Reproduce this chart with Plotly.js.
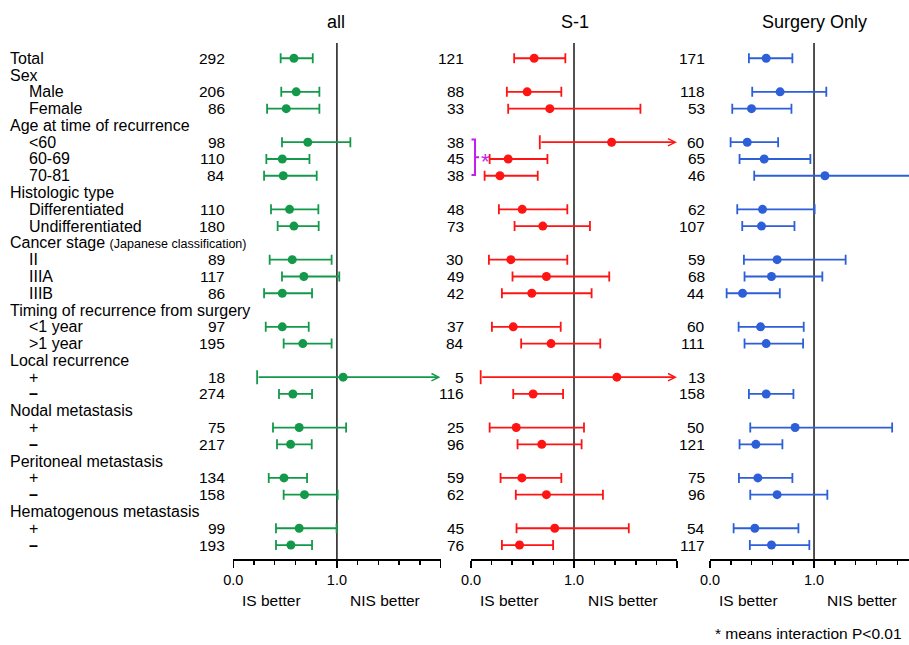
<!DOCTYPE html>
<html><head><meta charset="utf-8">
<script src="https://cdn.plot.ly/plotly-3.0.1.min.js"></script>
<style>html,body{margin:0;padding:0;background:#fff;overflow:hidden}#chart{width:909px;height:645px}</style>
</head><body><div id="chart"></div>
<script>
// ---------------- data ----------------
const labels = ['Total','Sex','Male','Female','Age at time of recurrence','<60','60-69','70-81',
  'Histologic type','Differentiated','Undifferentiated','Cancer stage|(Japanese classification)',
  'II','IIIA','IIIB','Timing of recurrence from surgery','<1 year','>1 year','Local recurrence','+','–',
  'Nodal metastasis','+','–','Peritoneal metastasis','+','–','Hematogenous metastasis','+','–'];
const level = [0,0,1,1,0,1,1,1,0,1,1,0,1,1,1,0,1,1,0,1,1,0,1,1,0,1,1,0,1,1];

const allN = [292,null,206,86,null,98,110,84,null,110,180,null,89,117,86,null,97,195,null,18,274,null,75,217,null,134,158,null,99,193];
const s1N  = [121,null,88,33,null,38,45,38,null,48,73,null,30,49,42,null,37,84,null,5,116,null,25,96,null,59,62,null,45,76];
const soN  = [171,null,118,53,null,60,65,46,null,62,107,null,59,68,44,null,60,111,null,13,158,null,50,121,null,75,96,null,54,117];

const allHR = [0.585,null,0.607,0.511,null,0.719,0.473,0.482,null,0.543,0.585,null,0.569,0.681,0.473,null,0.473,0.671,null,1.06,0.575,null,0.636,0.553,null,0.489,0.687,null,0.636,0.556];
const allLo = [0.457,null,0.463,0.326,null,0.470,0.319,0.297,null,0.364,0.428,null,0.351,0.470,0.297,null,0.313,0.486,null,0.230,0.441,null,0.383,0.422,null,0.342,0.486,null,0.412,0.412];
const allHi = [0.767,null,0.831,0.831,null,1.130,0.735,0.805,null,0.821,0.824,null,0.949,1.023,0.760,null,0.728,0.949,null,3.5,0.760,null,1.089,0.757,null,0.712,1.007,null,0.997,0.760];

const s1HR = [0.613,null,0.545,0.765,null,1.365,0.361,0.281,null,0.497,0.697,null,0.387,0.732,0.590,null,0.410,0.777,null,1.416,0.603,null,0.439,0.687,null,0.494,0.732,null,0.813,0.471];
const s1Lo = [0.419,null,0.348,0.361,null,0.668,0.181,0.132,null,0.271,0.423,null,0.174,0.403,0.300,null,0.203,0.487,null,0.094,0.410,null,0.181,0.452,null,0.287,0.435,null,0.442,0.300];
const s1Hi = [0.916,null,0.877,1.645,null,2.8,0.742,0.648,null,0.935,1.155,null,0.935,1.342,1.171,null,0.871,1.255,null,9.0,0.894,null,1.097,1.074,null,0.877,1.281,null,1.532,0.797];

const soHR = [0.540,null,0.674,0.399,null,0.358,0.521,1.105,null,0.505,0.495,null,0.645,0.591,0.313,null,0.486,0.540,null,null,0.540,null,0.818,0.441,null,0.460,0.645,null,0.431,0.591];
const soLo = [0.374,null,0.406,0.214,null,0.198,0.284,0.425,null,0.262,0.310,null,0.326,0.332,0.160,null,0.275,0.332,null,null,0.374,null,0.387,0.284,null,0.278,0.387,null,0.227,0.383];
const soHi = [0.792,null,1.118,0.783,null,0.655,0.965,1.98,null,1.006,0.812,null,1.304,1.080,0.671,null,0.901,0.895,null,null,0.802,null,1.751,0.696,null,0.792,1.128,null,0.850,0.955];

const panelTitles = ['all','S-1','Surgery Only'];
const tickVals = [0,1,2];
const tickText = ['0.0','1.0',''];
const leftNote = 'IS better', rightNote = 'NIS better';
const footnote = '* means interaction P<0.01';
const starRows = [5,7]; // interaction bracket rows in S-1

// ---------------- layout helpers ----------------
const W=909,H=645;
const FONT='"Liberation Sans", Arial, Helvetica, sans-serif';
const px=x=>x/W, py=y=>1-y/H;
const esc=s=>s.replace(/&/g,'&amp;').replace(/</g,'&lt;').replace(/>/g,'&gt;');
const yTop=43, yBot=559.3;
const AXIS_END=2;
const rows = labels.map((_,i)=>i);

const panels=[
 {n:allN,hr:allHR,lo:allLo,hi:allHi,color:'#14994b',ax:'x', axk:'xaxis', x0:233.3,x1:440.5,range:[0,2],countX:227,titleX:336,isX:271.7,nisX:385},
 {n:s1N, hr:s1HR, lo:s1Lo, hi:s1Hi, color:'#ff1414',ax:'x2',axk:'xaxis2',x0:471,x1:677,range:[0,2],countX:466,titleX:575,isX:509,nisX:623},
 {n:soN, hr:soHR, lo:soLo, hi:soHi, color:'#2c5fd8',ax:'x3',axk:'xaxis3',x0:710,x1:909,range:[0,1.913],countX:707,titleX:814,isX:748.7,nisX:862}
];

const traces=[], annotations=[], shapes=[];
const layout={
  width:W,height:H,margin:{l:0,r:0,t:0,b:0},showlegend:false,
  paper_bgcolor:'#fff',plot_bgcolor:'rgba(0,0,0,0)',
  font:{family:FONT,color:'#000',size:15},
  yaxis:{domain:[py(yBot),py(yTop)],range:[29.85,-0.91],visible:false,fixedrange:true,showgrid:false,zeroline:false},
  annotations, shapes
};

// left labels
labels.forEach((lab,i)=>{
  let txt;
  if(lab.includes('|')){const p=lab.split('|');txt=esc(p[0])+' <span style="font-size:12.5px">'+esc(p[1])+'</span>';}
  else if(lab==='–'){txt='<b>–</b>';}
  else txt=esc(lab);
  annotations.push({xref:'paper',yref:'y',x:px(level[i]?26.5:8),y:i,xanchor:'left',yanchor:'middle',
    text:txt,showarrow:false,font:{size:16,family:FONT,color:'#000'}});
});

panels.forEach((p,k)=>{
  layout[p.axk]={domain:[px(p.x0),px(p.x1)],anchor:'y',range:p.range,fixedrange:true,
    tickmode:'array',tickvals:tickVals,ticktext:tickText,ticks:'outside',ticklen:7,tickwidth:1.5,tickcolor:'#000',
    minor:{tickmode:'linear',tick0:0,dtick:0.2,ticks:'outside',ticklen:4,tickwidth:1.5,tickcolor:'#000'},
    showline:true,linecolor:'#000',linewidth:1.5,showgrid:false,zeroline:false,automargin:false,
    tickfont:{size:14.5,family:FONT,color:'#000'}};
  const nx=[],ny=[],ep=[],em=[];
  const ax_=[],ay_=[],alo=[];
  rows.forEach(i=>{
    if(p.hr[i]==null) return;
    if(p.hi[i]>AXIS_END){ax_.push(p.hr[i]);ay_.push(i);alo.push(p.lo[i]);}
    else {nx.push(p.hr[i]);ny.push(i);ep.push(p.hi[i]-p.hr[i]);em.push(p.hr[i]-p.lo[i]);}
  });
  traces.push({type:'scatter',mode:'markers',xaxis:p.ax,yaxis:'y',x:nx,y:ny,
    marker:{color:p.color,size:9},
    error_x:{type:'data',symmetric:false,array:ep,arrayminus:em,color:p.color,thickness:1.8,width:5},hoverinfo:'skip'});
  if(ax_.length){
    traces.push({type:'scatter',mode:'markers',xaxis:p.ax,yaxis:'y',x:alo,y:ay_,
      marker:{symbol:'line-ns-open',size:10,color:p.color,line:{color:p.color,width:1.8}},hoverinfo:'skip'});
    ay_.forEach((r,j)=>{
      annotations.push({xref:p.ax,yref:'y',x:AXIS_END-0.001,y:r,axref:p.ax,ayref:'y',ax:alo[j],ay:r,
        text:'',showarrow:true,arrowhead:5,arrowsize:0.8,arrowwidth:1.8,arrowcolor:p.color,standoff:0});
    });
    traces.push({type:'scatter',mode:'markers',xaxis:p.ax,yaxis:'y',x:ax_,y:ay_,
      marker:{color:p.color,size:9},hoverinfo:'skip'});
  }
  shapes.push({type:'line',xref:p.ax,yref:'paper',x0:1,x1:1,y0:py(yBot),y1:py(yTop),layer:'below',
    line:{color:'#333',width:1.7}});
  rows.forEach(i=>{
    if(p.n[i]==null) return;
    annotations.push({xref:'paper',yref:'y',x:px(p.countX),y:i,xanchor:'right',yanchor:'middle',
      text:String(p.n[i]),showarrow:false,font:{size:15.5,family:FONT,color:'#000'}});
  });
  annotations.push({xref:'paper',yref:'paper',x:px(p.titleX),y:py(22),xanchor:'center',yanchor:'middle',
    text:panelTitles[k],showarrow:false,font:{size:18,family:FONT,color:'#000'}});
  annotations.push({xref:'paper',yref:'paper',x:px(p.isX),y:py(600),xanchor:'center',yanchor:'middle',
    text:leftNote,showarrow:false,font:{size:15.5,family:FONT,color:'#000'}});
  annotations.push({xref:'paper',yref:'paper',x:px(p.nisX),y:py(600),xanchor:'center',yanchor:'middle',
    text:rightNote,showarrow:false,font:{size:15.5,family:FONT,color:'#000'}});
});

// interaction bracket in S-1 panel
const rowPx=r=>yTop+(r+0.91)*(yBot-yTop)/(29.85+0.91);
const bt=rowPx(starRows[0])-2.7, bb=rowPx(starRows[1])-0.7, bm=(bt+bb)/2;
const P=(x,y)=>px(x).toFixed(5)+','+py(y).toFixed(5);
shapes.push({type:'path',xref:'paper',yref:'paper',
  path:'M'+P(471.5,bt)+' L'+P(475,bt)+' L'+P(475,bb)+' L'+P(471.5,bb)+' M'+P(475,bm)+' L'+P(479,bm),
  line:{color:'#c51ff0',width:2}});
annotations.push({xref:'paper',yref:'paper',x:px(479),y:py(bm+4),xanchor:'left',yanchor:'middle',
  text:'*',showarrow:false,font:{size:22,family:FONT,color:'#c51ff0'}});

annotations.push({xref:'paper',yref:'paper',x:px(904),y:py(633),xanchor:'right',yanchor:'middle',
  text:esc(footnote),showarrow:false,font:{size:15.5,family:FONT,color:'#000'}});

Plotly.newPlot('chart',traces,layout,{displayModeBar:false,staticPlot:true});
</script></body></html>
